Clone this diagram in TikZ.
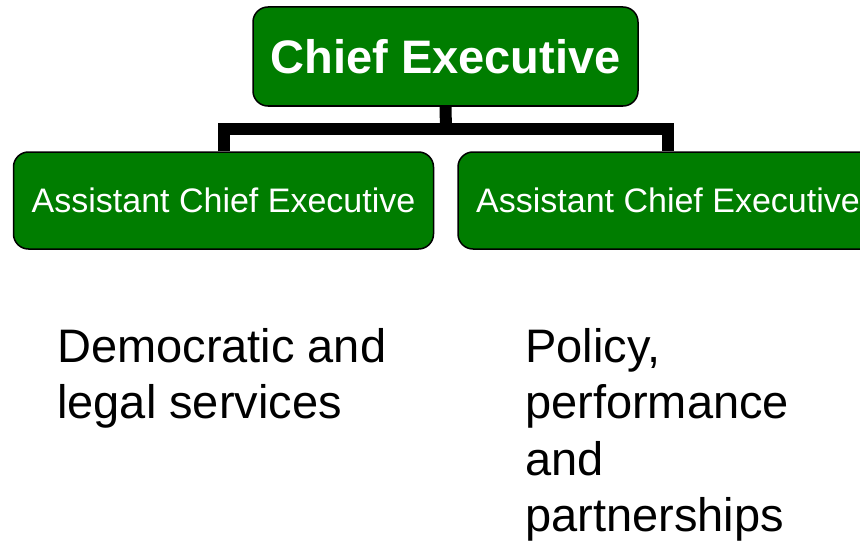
\documentclass[tikz,border=0pt]{standalone}
\usepackage{fontspec}
\setmainfont{Liberation Sans}
\usetikzlibrary{positioning}
\definecolor{boxgreen}{RGB}{0,125,0}
\tikzset{
  post/.style={draw=black,line width=1.5pt,fill=boxgreen,rounded corners=15pt,
    text=white,inner sep=0pt,align=center},
  chief/.style={post,minimum width=385pt,minimum height=99pt,
    font=\fontsize{47}{56}\selectfont\bfseries},
  assistant/.style={post,minimum width=420pt,minimum height=97pt,
    font=\fontsize{34}{40}\selectfont},
  remit/.style={anchor=north west,inner sep=0pt,align=left,
    font=\fontsize{47}{56.5}\selectfont},
  link/.style={line width=12pt,black}
}

\begin{document}
\begin{tikzpicture}[x=1pt,y=-1pt]
\clip (0,0) rectangle (860,543);

% boxes
\node[chief] (ce) at (445.5,56.5) {Chief Executive};
\node[assistant] (ace1) at (223.5,200.5) {Assistant Chief Executive};
\node[assistant] (ace2) at (668,200.5) {Assistant Chief Executive};

% lines
\coordinate (bar) at (446,129);
\draw[link] (ce.south) -- (bar);
\draw[link] (ace1.north) |- (bar) -| (ace2.north);

% remits
\node[remit] (dem) at (57,328) {Democratic and\\legal services};
\node[remit] (pol) at (525,328) {Policy,\\performance\\and\\partnerships};

\end{tikzpicture}
\end{document}
